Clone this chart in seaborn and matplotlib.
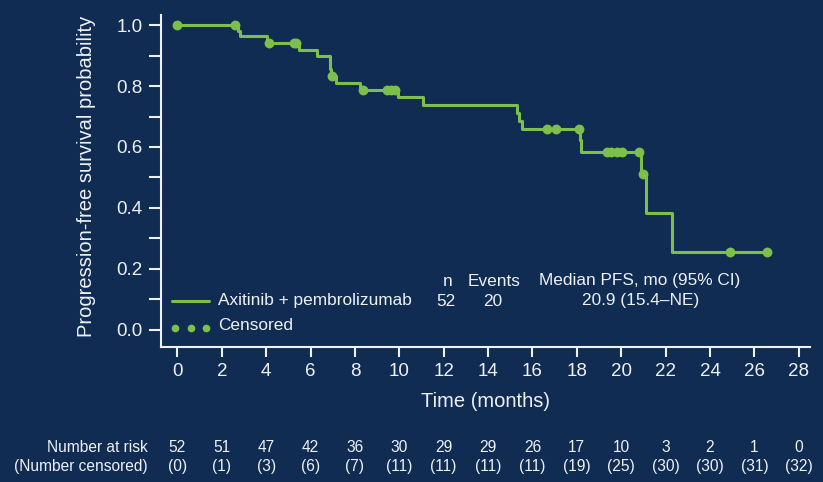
import numpy as np
import pandas as pd
import matplotlib
matplotlib.use("Agg")
import matplotlib.pyplot as plt
import matplotlib.transforms as mtransforms
from matplotlib.lines import Line2D
from matplotlib.ticker import MultipleLocator
import seaborn as sns

# Kaplan-Meier curve: time of each drop (months) and survival after it
event_times = [2.75, 2.82, 4.05, 5.50, 6.28, 6.86, 6.90, 6.93, 7.15, 8.25,
               9.95, 11.08, 15.29, 15.40, 15.51, 18.15, 18.20, 20.87, 21.11, 22.27]
surv_after = [0.981, 0.963, 0.940, 0.918, 0.898, 0.876, 0.855, 0.833, 0.811, 0.787,
              0.763, 0.738, 0.712, 0.685, 0.658, 0.622, 0.585, 0.511, 0.383, 0.256]

# Censoring times (months)
censor_times = [0.0, 2.60, 4.14, 5.26, 5.36, 6.95, 8.38, 9.43, 9.62, 9.80,
                16.64, 17.06, 18.11, 19.34, 19.55, 19.80, 20.05, 20.79, 20.96,
                24.90, 26.55]

# Risk table
risk_times = [0, 2, 4, 6, 8, 10, 12, 14, 16, 18, 20, 22, 24, 26, 28]
at_risk = [52, 51, 47, 42, 36, 30, 29, 29, 26, 17, 10, 3, 2, 1, 0]
n_censored = [0, 1, 3, 6, 7, 11, 11, 11, 11, 19, 25, 30, 30, 31, 32]

x_ticks = [0, 2, 4, 6, 8, 10, 12, 14, 16, 18, 20, 22, 24, 26, 28]
y_ticks = [0.0, 0.2, 0.4, 0.6, 0.8, 1.0]
y_tick_labels = ["0.0", "0.2", "0.4", "0.6", "0.8", "1.0"]

arm_label = "Axitinib + pembrolizumab"
arm_n = "52"
arm_events = "20"
arm_median = "20.9 (15.4–NE)"

BG = "#112c53"
FG = "#eef1f4"
GREEN = "#7cc04b"

sns.set_theme(style="ticks")
plt.rcParams["font.family"] = ["Liberation Sans", "DejaVu Sans"]

fig = plt.figure(figsize=(8.23, 4.82), dpi=100, facecolor=BG)
ax = fig.add_axes([0.1953, 0.2795, 0.7887, 0.6894])
ax.set_facecolor(BG)

# Step curve from the event data, extended to the last censoring time
step_t = np.concatenate([[0.0], event_times, [censor_times[-1]]])
step_s = np.concatenate([[1.0], surv_after, [surv_after[-1]]])
curve = pd.DataFrame({"t": step_t, "s": step_s})
sns.lineplot(data=curve, x="t", y="s", drawstyle="steps-post", color=GREEN,
             linewidth=2.2, estimator=None, sort=False, ax=ax, zorder=2)

# Censoring marks sit on the curve
idx = np.searchsorted(event_times, censor_times, side="right")
censor_surv = np.concatenate([[1.0], surv_after])[idx]
marks = pd.DataFrame({"t": censor_times, "s": censor_surv})
sns.scatterplot(data=marks, x="t", y="s", color=GREEN, s=50, linewidth=0,
                ax=ax, zorder=3)

ax.set_xlim(-0.75, 28.5)
ax.set_ylim(-0.057, 1.033)
ax.set_xticks(x_ticks)
ax.set_xticklabels([str(v) for v in x_ticks])
ax.set_yticks(y_ticks)
ax.set_yticklabels(y_tick_labels)
ax.yaxis.set_minor_locator(MultipleLocator(0.1))

for side in ("top", "right"):
    ax.spines[side].set_visible(False)
for side in ("left", "bottom"):
    ax.spines[side].set_color(FG)
    ax.spines[side].set_linewidth(1.5)

ax.tick_params(axis="x", which="major", direction="out", length=7.5, width=1.5,
               color=FG, labelcolor=FG, labelsize=13.5, pad=4)
ax.tick_params(axis="y", which="both", direction="out", length=9, width=1.5,
               color=FG, labelcolor=FG, labelsize=13.5, pad=4)

ax.set_xlabel("Time (months)", fontsize=14.5, color=FG)
ax.xaxis.set_label_coords(0.5, -0.135)
ax.set_ylabel("Progression-free survival probability", fontsize=14.5, color=FG)
ax.yaxis.set_label_coords(-0.100, 0.515)

# Legend block with summary statistics
W, H = 823.0, 482.0
def fx(px):
    return px / W
def fy(py):
    return 1.0 - py / H

fig.add_artist(Line2D([fx(172), fx(209)], [fy(301), fy(301)], color=GREEN,
                      linewidth=2.2, transform=fig.transFigure))
fig.add_artist(Line2D([fx(175), fx(190.7), fx(206)], [fy(328)] * 3, color=GREEN,
                      linestyle="none", marker="o", markersize=5.5,
                      markeredgewidth=0, transform=fig.transFigure))
fig.text(fx(218), fy(301), arm_label, fontsize=12.4, color=FG, ha="left", va="center")
fig.text(fx(218), fy(326), "Censored", fontsize=12.4, color=FG, ha="left", va="center")

fig.text(fx(448), fy(281), "n", fontsize=12.4, color=FG, ha="center", va="center")
fig.text(fx(494), fy(281), "Events", fontsize=12.4, color=FG, ha="center", va="center")
fig.text(fx(640), fy(281), "Median PFS, mo (95% CI)", fontsize=12.4, color=FG,
         ha="center", va="center")
fig.text(fx(446), fy(301), arm_n, fontsize=12.4, color=FG, ha="center", va="center")
fig.text(fx(493), fy(301), arm_events, fontsize=12.4, color=FG, ha="center", va="center")
fig.text(fx(641), fy(301), arm_median, fontsize=12.4, color=FG, ha="center", va="center")

# Number-at-risk table aligned with the time axis
trans = mtransforms.blended_transform_factory(ax.transData, fig.transFigure)
row1, row2 = fy(447), fy(466)
fig.text(fx(148), row1, "Number at risk", fontsize=11.2, color=FG, ha="right", va="center")
fig.text(fx(148), row2, "(Number censored)", fontsize=11.2, color=FG, ha="right", va="center")
for t, n, c in zip(risk_times, at_risk, n_censored):
    ax.text(t, row1, str(n), transform=trans, fontsize=11.2, color=FG,
            ha="center", va="center", clip_on=False)
    ax.text(t, row2, f"({c})", transform=trans, fontsize=11.2, color=FG,
            ha="center", va="center", clip_on=False)

fig.savefig("out.png", dpi=100, facecolor=BG)
